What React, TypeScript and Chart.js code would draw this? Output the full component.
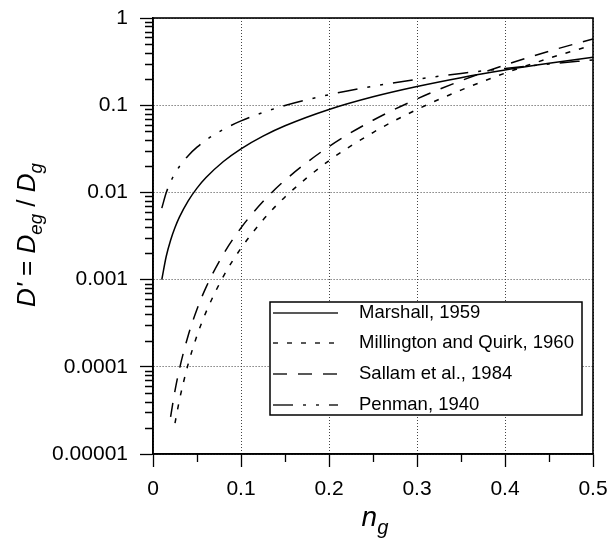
import React, { useEffect, useRef } from 'react';
import { Chart, registerables } from 'chart.js';

Chart.register(...registerables);

// n_g values along the curves
const nValues = [0.01, 0.015, 0.02, 0.025, 0.03, 0.04, 0.05, 0.06, 0.08, 0.1, 0.125, 0.15, 0.2, 0.25, 0.3, 0.35, 0.4, 0.45, 0.5];

// D' (null = curve not drawn there)
const marshall = [0.001, 0.00184, 0.00283, 0.00395, 0.0052, 0.008, 0.0112, 0.0147, 0.0226, 0.0316, 0.0442, 0.0581, 0.0894, 0.125, 0.164, 0.207, 0.253, 0.302, 0.354];
const millington = [null, null, null, 2.26e-5, 4.14e-5, 1.08e-4, 2.28e-4, 4.18e-4, 1.09e-3, 2.29e-3, 4.82e-3, 8.86e-3, 0.0231, 0.0486, 0.0893, 0.149, 0.233, 0.345, 0.49];
const sallam = [null, null, 2.67e-5, 5.33e-5, 9.38e-5, 2.29e-4, 4.57e-4, 8.05e-4, 1.96e-3, 3.92e-3, 7.85e-3, 0.0138, 0.0336, 0.0672, 0.118, 0.191, 0.289, 0.416, 0.576];
const penman = [0.0066, 0.0099, 0.0132, 0.0165, 0.0198, 0.0264, 0.033, 0.0396, 0.0528, 0.066, 0.0825, 0.099, 0.132, 0.165, 0.198, 0.231, 0.264, 0.297, 0.33];

const seriesLabels = ['Marshall, 1959', 'Millington and Quirk, 1960', 'Sallam et al., 1984', 'Penman, 1940'];

const xTicks = [0, 0.1, 0.2, 0.3, 0.4, 0.5];
const xMinorTicks = [0.05, 0.15, 0.25, 0.35, 0.45];
const yTicks = [0.00001, 0.0001, 0.001, 0.01, 0.1, 1];
const yTickLabels = ['0.00001', '0.0001', '0.001', '0.01', '0.1', '1'];

const FONT = "'Liberation Sans', Arial, sans-serif";

function toPoints(vals: (number | null)[]) {
  const out: { x: number; y: number }[] = [];
  vals.forEach((v, i) => {
    if (v !== null) out.push({ x: nValues[i], y: v });
  });
  return out;
}

type Part = { t: string; i?: boolean; sub?: boolean };

function drawRich(ctx: CanvasRenderingContext2D, parts: Part[], cx: number, baseY: number, size: number) {
  const subScale = 0.72;
  const fontFor = (p: Part) => `${p.i ? 'italic ' : ''}${p.sub ? size * subScale : size}px ${FONT}`;
  let total = 0;
  const widths = parts.map((p) => {
    ctx.font = fontFor(p);
    const w = ctx.measureText(p.t).width;
    total += w;
    return w;
  });
  let x = cx - total / 2;
  ctx.textBaseline = 'alphabetic';
  ctx.textAlign = 'left';
  parts.forEach((p, k) => {
    ctx.font = fontFor(p);
    ctx.fillText(p.t, x, baseY + (p.sub ? size * 0.28 : 0));
    x += widths[k];
  });
}

const overlayPlugin = {
  id: 'overlay',
  afterDraw(chart: any) {
    const { ctx, chartArea: a, scales } = chart;
    const xs = scales.x;
    const ys = scales.y;
    ctx.save();
    ctx.setLineDash([]);
    ctx.strokeStyle = '#000';
    ctx.fillStyle = '#000';

    // frame
    ctx.lineWidth = 1.6;
    ctx.strokeRect(a.left, a.top, a.right - a.left, a.bottom - a.top);

    // minor ticks
    ctx.lineWidth = 1.3;
    ctx.beginPath();
    for (let e = -5; e < 0; e++) {
      for (let m = 2; m <= 9; m++) {
        const py = Math.round(ys.getPixelForValue(m * Math.pow(10, e))) + 0.5;
        ctx.moveTo(a.left - 8, py);
        ctx.lineTo(a.left, py);
      }
    }
    xMinorTicks.forEach((v) => {
      const px = Math.round(xs.getPixelForValue(v)) + 0.5;
      ctx.moveTo(px, a.bottom);
      ctx.lineTo(px, a.bottom + 8);
    });
    ctx.stroke();

    // legend
    const lx = 270, ly = 302, lw = 312, lh = 113;
    ctx.fillStyle = '#fff';
    ctx.fillRect(lx, ly, lw, lh);
    ctx.lineWidth = 1.5;
    ctx.strokeStyle = '#000';
    ctx.strokeRect(lx, ly, lw, lh);
    const rows = [313, 343, 374, 405];
    chart.data.datasets.forEach((ds: any, k: number) => {
      const yy = rows[k];
      ctx.save();
      ctx.strokeStyle = '#222';
      ctx.lineWidth = 1.5;
      ctx.setLineDash(ds.borderDash || []);
      ctx.beginPath();
      ctx.moveTo(273, yy);
      ctx.lineTo(338, yy);
      ctx.stroke();
      ctx.restore();
      ctx.fillStyle = '#000';
      ctx.font = `18.5px ${FONT}`;
      ctx.textBaseline = 'middle';
      ctx.textAlign = 'left';
      ctx.fillText(ds.label, 359, yy);
    });

    // axis titles
    ctx.fillStyle = '#000';
    drawRich(ctx, [{ t: 'n', i: true }, { t: 'g', i: true, sub: true }], 375, 526, 28);
    ctx.save();
    ctx.translate(35, 235);
    ctx.rotate(-Math.PI / 2);
    drawRich(
      ctx,
      [
        { t: 'D', i: true },
        { t: "'", i: true },
        { t: ' = ' },
        { t: 'D', i: true },
        { t: 'eg', i: true, sub: true },
        { t: ' / ' },
        { t: 'D', i: true },
        { t: 'g', i: true, sub: true },
      ],
      0,
      0,
      26
    );
    ctx.restore();
    ctx.restore();
  },
};

export default function App() {
  const ref = useRef<HTMLCanvasElement | null>(null);
  useEffect(() => {
    if (!ref.current) return;
    const common = { borderColor: '#000', borderWidth: 1.5, pointRadius: 0, fill: false, cubicInterpolationMode: 'monotone' as const };
    const chart = new Chart(ref.current, {
      type: 'line',
      data: {
        datasets: [
          { ...common, label: seriesLabels[0], data: toPoints(marshall), borderDash: [] },
          { ...common, label: seriesLabels[1], data: toPoints(millington), borderDash: [5, 9] },
          { ...common, label: seriesLabels[2], data: toPoints(sallam), borderDash: [14, 11] },
          { ...common, label: seriesLabels[3], data: toPoints(penman), borderDash: [20, 10, 3, 10, 3, 10] },
        ],
      },
      options: {
        animation: false,
        responsive: false,
        layout: { padding: { top: 18, right: 17, left: 0, bottom: 0 } },
        plugins: { legend: { display: false }, tooltip: { enabled: false } },
        scales: {
          x: {
            type: 'linear',
            min: 0,
            max: 0.5,
            afterBuildTicks: (s: any) => {
              s.ticks = xTicks.map((v) => ({ value: v }));
            },
            afterFit: (s: any) => {
              s.height = 84;
              s.paddingLeft = 0;
              s.paddingRight = 0;
            },
            ticks: {
              color: '#000',
              font: { family: FONT, size: 21 },
              padding: 10,
              maxRotation: 0,
              callback: (v: any) => String(Number(Number(v).toFixed(1))),
            },
            grid: { color: '#444', lineWidth: 1, tickColor: '#000', tickLength: 13, tickWidth: 1.3 },
            border: { display: true, color: '#000', width: 1.6, dash: [1, 2] },
          },
          y: {
            type: 'logarithmic',
            min: 0.00001,
            max: 1,
            afterBuildTicks: (s: any) => {
              s.ticks = yTicks.map((v) => ({ value: v, major: true }));
            },
            afterFit: (s: any) => {
              s.width = 153;
              s.paddingTop = 0;
              s.paddingBottom = 0;
            },
            ticks: {
              color: '#000',
              font: { family: FONT, size: 21 },
              padding: 12,
              callback: (v: any) => {
                const idx = yTicks.findIndex((t) => Math.abs(Math.log10(t) - Math.log10(Number(v))) < 1e-6);
                return idx >= 0 ? yTickLabels[idx] : '';
              },
            },
            grid: { color: '#444', lineWidth: 1, tickColor: '#000', tickLength: 13, tickWidth: 1.3 },
            border: { display: true, color: '#000', width: 1.6, dash: [1, 2] },
          },
        },
      },
      plugins: [overlayPlugin],
    } as any);
    return () => chart.destroy();
  }, []);
  return (
    <div style={{ position: 'absolute', left: 0, top: 0, width: 610, height: 538, background: '#fff' }}>
      <canvas ref={ref} width={610} height={538} style={{ width: 610, height: 538, display: 'block' }} />
    </div>
  );
}
